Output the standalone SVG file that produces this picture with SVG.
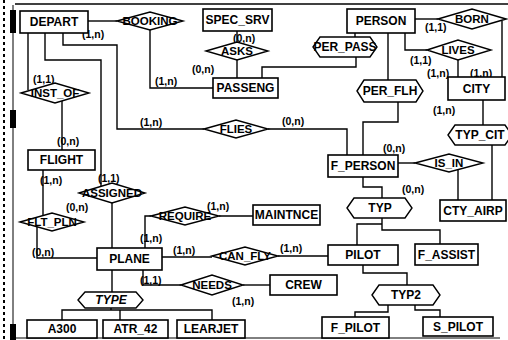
<svg xmlns="http://www.w3.org/2000/svg" width="508" height="340" viewBox="0 0 508 340">
<style>
.e{fill:#fff;stroke:#000;stroke-width:1.6}
.r{fill:#fff;stroke:#000;stroke-width:1.4}
.c{fill:none;stroke:#000;stroke-width:1.4}
.t{font-family:"Liberation Sans",Arial,sans-serif;font-weight:bold;font-size:12px;text-anchor:middle;dominant-baseline:central;fill:#000}
.d{font-size:11.5px}
.l{font-family:"Liberation Sans",Arial,sans-serif;font-weight:bold;font-size:10.5px;fill:#000}
</style>
<rect width="508" height="340" fill="#fff"/>
<g id="frame">
<line x1="4" y1="0" x2="4" y2="340" stroke="#000" stroke-width="2" stroke-dasharray="3,3"/>
<line x1="13" y1="5" x2="13" y2="340" stroke="#000" stroke-width="1"/>
<rect x="10" y="10" width="6" height="23" fill="#000"/>
<rect x="10" y="110" width="6" height="18" fill="#000"/>
<rect x="10" y="324" width="6" height="16" fill="#000"/>
<line x1="15" y1="4" x2="508" y2="4" stroke="#000" stroke-width="1.5"/>
<line x1="13" y1="338" x2="500" y2="338" stroke="#000" stroke-width="1"/>
</g>
<g id="connectors">
<path class="c" d="M88,21 H117"/>
<path class="c" d="M150,30 V88 H213"/>
<path class="c" d="M237,31 V42"/>
<path class="c" d="M237,60 V78"/>
<path class="c" d="M262,78 V67 H356 V57"/>
<path class="c" d="M355,33 V37"/>
<path class="c" d="M415,19 H438"/>
<path class="c" d="M405,33 V50 H427"/>
<path class="c" d="M502,21 V77"/>
<path class="c" d="M458,60 V77"/>
<path class="c" d="M388,33 V80"/>
<path class="c" d="M398,102 V122 H363 V155"/>
<path class="c" d="M63,33 V45 H117 V129 H204"/>
<path class="c" d="M268,129 H347 V155"/>
<path class="c" d="M28,33 V90"/>
<path class="c" d="M62,101 V150"/>
<path class="c" d="M45,33 V60 H101 V186"/>
<path class="c" d="M112,203 V248"/>
<path class="c" d="M43,170 V216"/>
<path class="c" d="M37,227 V258 H97"/>
<path class="c" d="M145,248 V216 H151"/>
<path class="c" d="M219,216 H253"/>
<path class="c" d="M162,257 H212"/>
<path class="c" d="M278,256 H328"/>
<path class="c" d="M143,270 V285 H181"/>
<path class="c" d="M243,285 H270"/>
<path class="c" d="M112,270 V292"/>
<path class="c" d="M111,308 V310 M62,320 V310 H212 V320 M120,310 V320"/>
<path class="c" d="M398,163 H415"/>
<path class="c" d="M458,170 V200"/>
<path class="c" d="M483,100 V125"/>
<path class="c" d="M492,145 V200"/>
<path class="c" d="M363,177 V187 H382 V198"/>
<path class="c" d="M382,218 V230 H440 V244 M357,245 V224 H382"/>
<path class="c" d="M363,265 V273 H407 V285"/>
<path class="c" d="M388,305 V312 H355 V317"/>
<path class="c" d="M415,305 V310 H440 V317"/>
</g>
<g id="labels">
<text class="l" x="82" y="38">(1,n)</text>
<text class="l" x="155" y="85">(1,n)</text>
<text class="l" x="233" y="42">(0,n)</text>
<text class="l" x="192" y="73">(0,n)</text>
<text class="l" x="425" y="31">(1,1)</text>
<text class="l" x="410" y="64">(1,1)</text>
<text class="l" x="427" y="77">(1,n)</text>
<text class="l" x="470" y="77">(1,n)</text>
<text class="l" x="433" y="114">(1,n)</text>
<text class="l" x="33" y="83">(1,1)</text>
<text class="l" x="57" y="145">(0,n)</text>
<text class="l" x="140" y="126">(1,n)</text>
<text class="l" x="282" y="125">(0,n)</text>
<text class="l" x="383" y="152">(0,n)</text>
<text class="l" x="402" y="193">(0,n)</text>
<text class="l" x="40" y="184">(1,n)</text>
<text class="l" x="98" y="182">(1,1)</text>
<text class="l" x="66" y="211">(0,n)</text>
<text class="l" x="207" y="210">(1,n)</text>
<text class="l" x="32" y="256">(0,n)</text>
<text class="l" x="140" y="242">(1,n)</text>
<text class="l" x="173" y="254">(1,n)</text>
<text class="l" x="280" y="252">(1,n)</text>
<text class="l" x="140" y="284">(1,1)</text>
<text class="l" x="232" y="305">(1,n)</text>
</g>
<g id="DEPART"><rect class="e" x="20" y="11" width="68" height="22"/><text class="t" x="54" y="22">DEPART</text></g>
<g id="SPEC_SRV"><rect class="e" x="203" y="9" width="69" height="22"/><text class="t" x="237.5" y="20">SPEC_SRV</text></g>
<g id="PASSENG"><rect class="e" x="213" y="78" width="65" height="20"/><text class="t" x="245.5" y="88">PASSENG</text></g>
<g id="PERSON"><rect class="e" x="347" y="9" width="68" height="24"/><text class="t" x="381" y="21">PERSON</text></g>
<g id="CITY"><rect class="e" x="448" y="77" width="57" height="23"/><text class="t" x="476.5" y="88.5">CITY</text></g>
<g id="FLIGHT"><rect class="e" x="28" y="150" width="67" height="20"/><text class="t" x="61.5" y="160">FLIGHT</text></g>
<g id="F_PERSON"><rect class="e" x="328" y="155" width="70" height="22"/><text class="t" x="363" y="166">F_PERSON</text></g>
<g id="MAINTNCE"><rect class="e" x="253" y="205" width="67" height="20"/><text class="t" x="286.5" y="215">MAINTNCE</text></g>
<g id="CTY_AIRP"><rect class="e" x="440" y="200" width="66" height="21"/><text class="t" x="473" y="210.5">CTY_AIRP</text></g>
<g id="PLANE"><rect class="e" x="97" y="248" width="65" height="22"/><text class="t" x="129.5" y="259">PLANE</text></g>
<g id="PILOT"><rect class="e" x="328" y="245" width="70" height="20"/><text class="t" x="363" y="255">PILOT</text></g>
<g id="F_ASSIST"><rect class="e" x="415" y="244" width="63" height="21"/><text class="t" x="446.5" y="254.5">F_ASSIST</text></g>
<g id="CREW"><rect class="e" x="270" y="275" width="67" height="20"/><text class="t" x="303.5" y="285">CREW</text></g>
<g id="A300"><rect class="e" x="27" y="320" width="70" height="18"/><text class="t" x="62" y="329">A300</text></g>
<g id="ATR_42"><rect class="e" x="103" y="320" width="65" height="18"/><text class="t" x="135.5" y="329">ATR_42</text></g>
<g id="LEARJET"><rect class="e" x="177" y="320" width="68" height="18"/><text class="t" x="211" y="329">LEARJET</text></g>
<g id="F_PILOT"><rect class="e" x="322" y="317" width="67" height="21"/><text class="t" x="355.5" y="327.5">F_PILOT</text></g>
<g id="S_PILOT"><rect class="e" x="423" y="317" width="70" height="19"/><text class="t" x="458" y="326.5">S_PILOT</text></g>
<g id="BOOKING"><polygon class="r" points="117,21 150,12 183,21 150,30"/><text class="t d" x="150" y="21">BOOKING</text></g>
<g id="ASKS"><polygon class="r" points="206,51 237,42 268,51 237,60"/><text class="t d" x="237" y="51">ASKS</text></g>
<g id="BORN"><polygon class="r" points="438,19 472,9 506,19 472,29"/><text class="t d" x="472" y="19">BORN</text></g>
<g id="LIVES"><polygon class="r" points="427,50 458,40 491,50 458,60"/><text class="t d" x="458" y="50">LIVES</text></g>
<g id="INST_OF"><polygon class="r" points="21,93 55,83 89,93 55,103"/><text class="t d" x="55" y="93">INST_OF</text></g>
<g id="FLIES"><polygon class="r" points="204,129 236,120 268,129 236,138"/><text class="t d" x="236" y="129">FLIES</text></g>
<g id="ASSIGNED"><polygon class="r" points="79,193 112,183 145,193 112,203"/><text class="t d" x="112" y="193">ASSIGNED</text></g>
<g id="FLT_PLN"><polygon class="r" points="20,222 52,213 84,222 52,231"/><text class="t d" x="52" y="222">FLT_PLN</text></g>
<g id="REQUIRE"><polygon class="r" points="151,216 185,207 219,216 185,225"/><text class="t d" x="185" y="216">REQUIRE</text></g>
<g id="CAN_FLY"><polygon class="r" points="212,256 245,247 278,256 245,265"/><text class="t d" x="245" y="256">CAN_FLY</text></g>
<g id="NEEDS"><polygon class="r" points="181,285 212,275 243,285 212,295"/><text class="t d" x="212" y="285">NEEDS</text></g>
<g id="IS_IN"><polygon class="r" points="415,163 449,154 483,163 449,172"/><text class="t d" x="449" y="163">IS_IN</text></g>
<g id="PER_PASS"><polygon class="r" points="313,47 320,37 370,37 377,47 370,57 320,57"/><text class="t" x="345" y="47">PER_PASS</text></g>
<g id="PER_FLH"><polygon class="r" points="357,91 364,80 416,80 423,91 416,102 364,102"/><text class="t" x="390" y="91">PER_FLH</text></g>
<g id="TYP_CIT"><polygon class="r" points="448,135 455,125 505,125 512,135 505,145 455,145"/><text class="t" x="480" y="135">TYP_CIT</text></g>
<g id="TYP"><polygon class="r" points="347,208 354,198 405,198 412,208 405,218 354,218"/><text class="t" x="380" y="208">TYP</text></g>
<g id="TYP2"><polygon class="r" points="372,295 379,285 433,285 440,295 433,305 379,305"/><text class="t" x="406" y="295">TYP2</text></g>
<g id="TYPE"><polygon class="r" points="78,300 85,292 136,292 143,300 136,308 85,308"/><text class="t" x="111" y="300" font-style="italic">TYPE</text></g>
</svg>
